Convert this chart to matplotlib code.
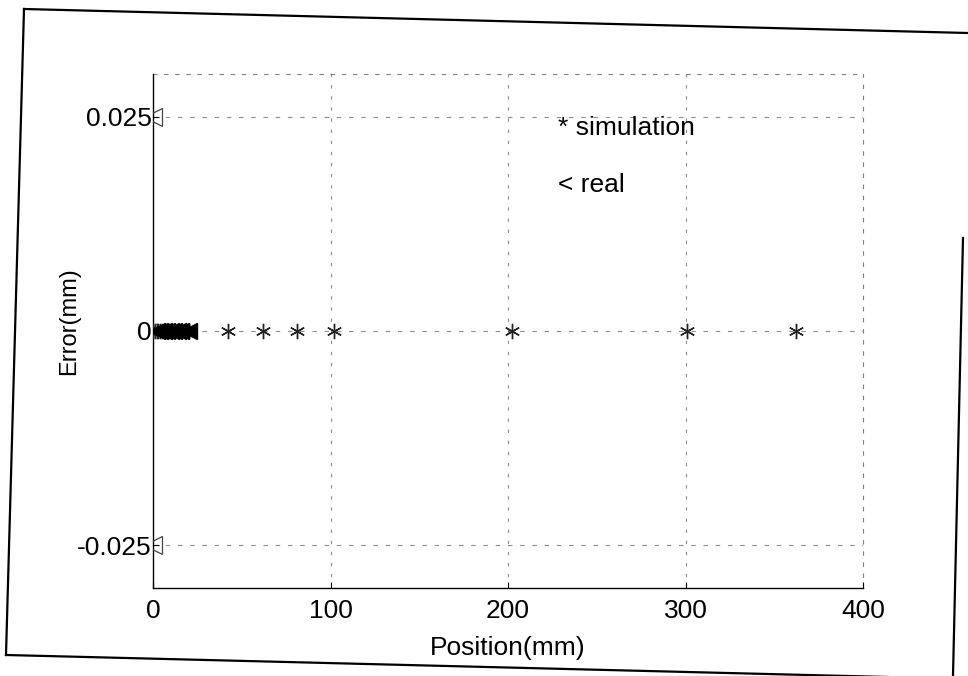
import matplotlib.pyplot as plt
from matplotlib.lines import Line2D

plt.rcParams['font.family'] = ['Liberation Sans', 'DejaVu Sans']

# data
sim_x = [0, 1, 2, 3, 4, 5, 6, 7, 8, 9, 10, 20, 42, 62, 81, 102, 202, 301, 362]
sim_y = [0] * len(sim_x)
real_x = [0, 0, 2, 4, 6, 8, 10, 12, 14, 16, 20]
real_y = [0.025, -0.025, 0, 0, 0, 0, 0, 0, 0, 0, 0]
xticks = [0, 100, 200, 300, 400]
yticks = [-0.025, 0, 0.025]
ytick_labels = ['-0.025', '0', '0.025']

W, H = 968, 676
fig = plt.figure(figsize=(W / 100, H / 100), dpi=100)

# axes box in pixels
left, right, top, bottom = 153, 863, 74, 588
ax = fig.add_axes([left / W, 1 - bottom / H, (right - left) / W, (bottom - top) / H])

# grid (MATLAB style dotted, faded by the scan)
for gx in xticks[1:-1]:
    ax.axvline(gx, color='black', lw=0.8, ls=(0, (3, 7)), alpha=0.45, zorder=1)
for gy in yticks:
    ax.axhline(gy, color='black', lw=0.8, ls=(0, (4, 7)), alpha=0.45, zorder=1)

# MATLAB style asterisk
ax.plot(sim_x, sim_y, ls='none', marker=(6, 2, 0), ms=11, color='#222222', mew=1.0, zorder=3)
# filled triangles for the cluster, open ones for the outliers
ax.plot(real_x[2:], real_y[2:], ls='none', marker='<', ms=11, color='black', zorder=4)
ax.plot(real_x[:2], real_y[:2], ls='none', marker='<', ms=13, mfc='none', mec='#444444',
        mew=0.9, zorder=4)

ax.set_xlim(0, 400)
ax.set_ylim(-0.03, 0.03)
ax.set_xticks(xticks)
ax.set_yticks(yticks)
ax.set_yticklabels(ytick_labels)
ax.tick_params(direction='in', length=4, labelsize=19, pad=8, colors='black')
ax.tick_params(axis='y', pad=1)

ax.spines['left'].set_linewidth(1.0)
ax.spines['bottom'].set_linewidth(1.0)
for s in ['top', 'right']:
    ax.spines[s].set_linestyle((0, (3, 7)))
    ax.spines[s].set_linewidth(0.8)
    ax.spines[s].set_alpha(0.5)

ax.set_xlabel('Position(mm)', fontsize=19, labelpad=9)
ax.set_ylabel('Error(mm)', fontsize=17)
ax.yaxis.set_label_coords(-0.102, 0.52)

ax.text(228, 0.0237, '* simulation', fontsize=19, va='center')
ax.text(228, 0.0170, '< real', fontsize=19, va='center')

# scanned page frame
def px(x, y):
    return x / W, 1 - y / H

frame = [
    [(24, 9), (968, 33)],
    [(24, 9), (6, 655)],
    [(6, 655), (968, 679)],
    [(963, 238), (953, 676)],
]
for (a, b) in frame:
    (x0, y0), (x1, y1) = px(*a), px(*b)
    fig.add_artist(Line2D([x0, x1], [y0, y1], color='black', lw=1.6))

fig.savefig('out.png', dpi=100)
